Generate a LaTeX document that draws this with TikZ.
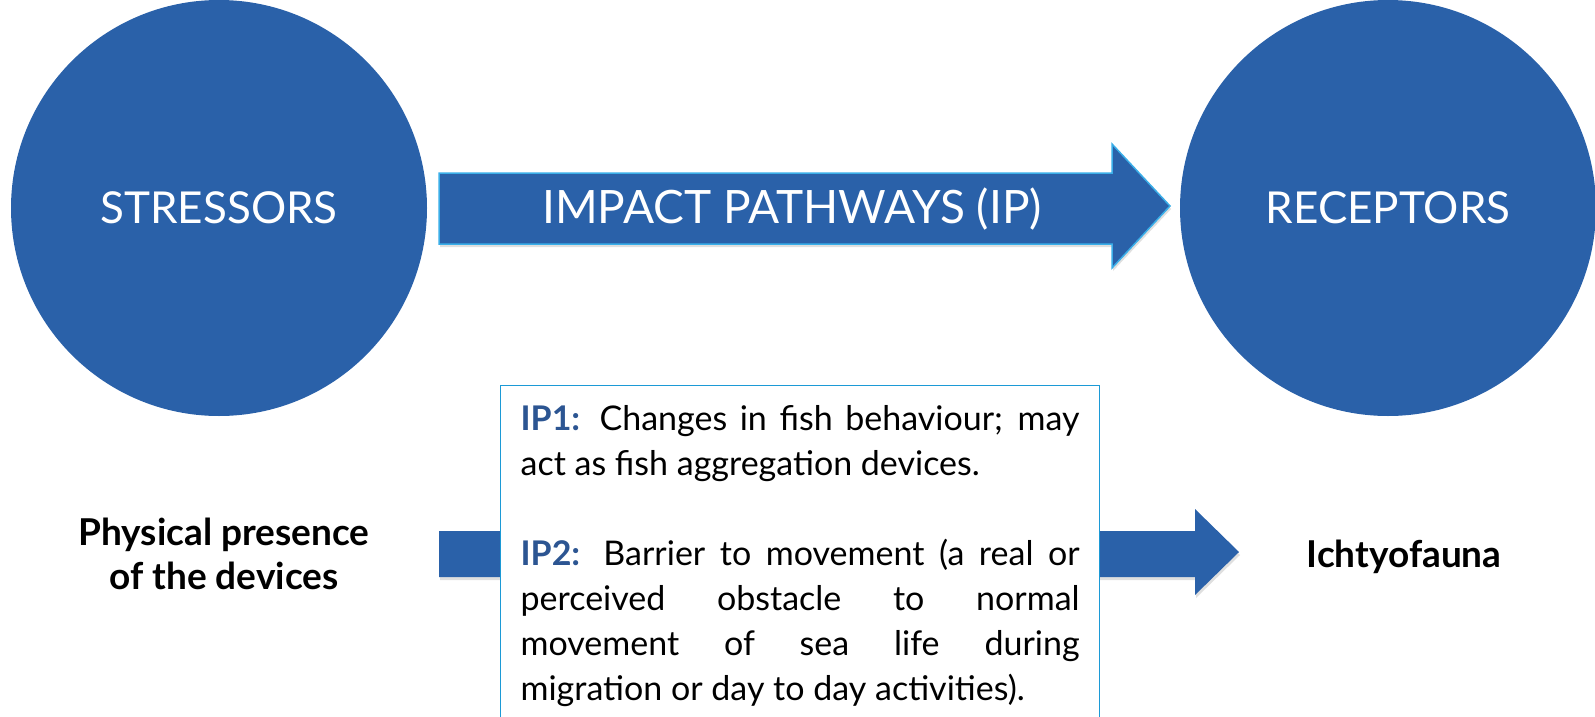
\documentclass[tikz,border=0pt]{standalone}
\usepackage{fontspec}
\setmainfont{Lato}
\usetikzlibrary{positioning}
\usetikzlibrary{shadows}

\definecolor{discblue}{HTML}{2A61A9}
\definecolor{rimblue}{HTML}{3AAEE8}
\definecolor{boxrim}{HTML}{1C9AD6}
\definecolor{labelblue}{HTML}{2C5592}

\tikzset{
  disc/.style={circle, fill=discblue, minimum size=416pt, inner sep=0pt,
    text=white, font=\fontsize{44}{52}\selectfont},
  bigarrow/.style={fill=discblue, draw=rimblue, line width=1.5pt,
    drop shadow={opacity=0.25, shadow xshift=1pt, shadow yshift=-3pt}},
  smallarrow/.style={fill=discblue,
    drop shadow={opacity=0.25, shadow xshift=1pt, shadow yshift=-3pt}},
  ipbox/.style={draw=boxrim, line width=1.2pt, fill=white, anchor=north west,
    text width=559pt, inner xsep=20pt, inner ysep=20pt,
    align=justify, font=\fontsize{34}{45}\selectfont},
  side/.style={align=center, font=\bfseries\fontsize{37}{44}\selectfont}
}

\newcommand{\iplabel}[1]{{\bfseries\color{labelblue}#1}}

\begin{document}
\begin{tikzpicture}[x=1pt,y=-1pt]
  \useasboundingbox (0,0) rectangle (1595,717);
  \node[disc] (stressors) at (219,208) {STRESSORS};
  \node[disc] (receptors) at (1388,208) {RECEPTORS};
  % top arrow
  \draw[bigarrow] (439,173) -- (1112,173) -- (1112,144) -- (1170,206)
    -- (1112,268) -- (1112,244) -- (439,244) -- cycle;
  \node[text=white, font=\fontsize{46}{52}\selectfont] (pathways) at (792,209) {IMPACT PATHWAYS (IP)};
  % bottom arrow, partly under the box
  \fill[smallarrow] (439,531) -- (1195,531) -- (1195,509) -- (1239,552)
    -- (1195,595) -- (1195,577) -- (439,577) -- cycle;
  \node[ipbox] (ipbox) at (500,385) {%
    \iplabel{IP1:} Changes in fish behaviour; may\linebreak
    act as fish aggregation devices.\par
    \vspace{45pt}
    \iplabel{IP2:} Barrier to movement (a real or\linebreak
    perceived obstacle to normal\linebreak
    movement of sea life during\linebreak
    migration or day to day activities).\par
    \vspace*{40pt}};
  \node[side] (presence) at (224,554) {Physical presence\\of the devices};
  \node[side] (fauna) at (1404,557) {Ichtyofauna};
\end{tikzpicture}
\end{document}
